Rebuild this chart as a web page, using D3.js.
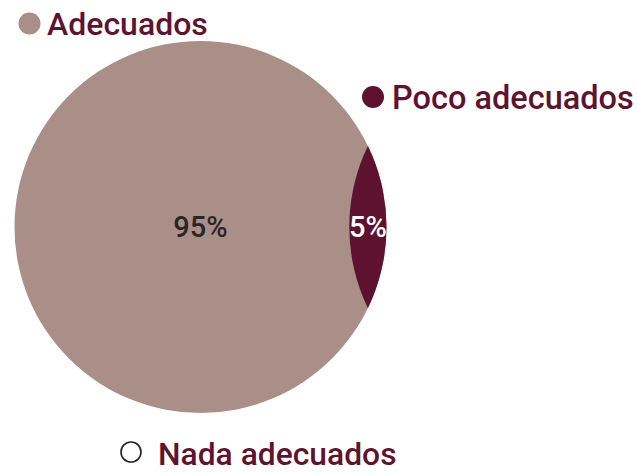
<!DOCTYPE html>
<html>
<head>
<meta charset="utf-8">
<script src="https://cdn.jsdelivr.net/npm/d3@7"></script>
<style>
  html, body { margin: 0; padding: 0; background: #fff; }
  svg { display: block; font-family: Roboto, "Noto Sans", sans-serif; }
</style>
</head>
<body>
<svg id="chart" width="637" height="473"></svg>
<script>
// Share of responses per rating
const categories = ["Adecuados", "Poco adecuados", "Nada adecuados"];
const values = [95, 5, 0];
const valueLabels = ["95%", "5%", "0%"];
const colors = ["#A98F87", "#5E1230", "#FFFFFF"];

const svg = d3.select("#chart");

// Main circle geometry
const cx = 200.5, cy = 227, R = 186;

// Depth of the overlap along the centre line grows with the minority share
const overlap = d3.scaleLinear().domain([0, 100]).range([0, 4 * R]);
const depth = overlap(values[1]);
const cx2 = cx + 2 * R - depth;

const defs = svg.append("defs");
defs.append("clipPath").attr("id", "mainClip")
  .append("circle").attr("cx", cx).attr("cy", cy).attr("r", R);

// Majority circle
svg.append("circle")
  .attr("cx", cx).attr("cy", cy).attr("r", R)
  .attr("fill", colors[0]);

// Minority lens: second circle clipped to the main one
svg.append("g").attr("clip-path", "url(#mainClip)")
  .append("circle")
  .attr("cx", cx2).attr("cy", cy).attr("r", R)
  .attr("fill", colors[1]);

// Value labels
svg.append("text")
  .attr("x", cx).attr("y", cy + 10)
  .attr("text-anchor", "middle")
  .attr("font-size", 29).attr("font-weight", 500)
  .attr("fill", "#2B2527")
  .text(valueLabels[0]);

const lensCenter = (cx + R + (cx2 - R)) / 2;
svg.append("text")
  .attr("x", lensCenter).attr("y", cy + 10)
  .attr("text-anchor", "middle")
  .attr("font-size", 29).attr("font-weight", 500)
  .attr("fill", "#FFFFFF")
  .text(valueLabels[1]);

// Legend entries placed around the circle
const legendPos = [
  { mx: 29.5, my: 23.5, r: 11, tx: 47, ty: 35, fs: 32 },
  { mx: 373, my: 97, r: 11, tx: 392, ty: 109, fs: 32.5 },
  { mx: 131, my: 452, r: 10, tx: 158, ty: 465, fs: 31.8 }
];

const legend = svg.append("g").selectAll("g")
  .data(categories)
  .join("g");

legend.append("circle")
  .attr("cx", (d, i) => legendPos[i].mx)
  .attr("cy", (d, i) => legendPos[i].my)
  .attr("r", (d, i) => legendPos[i].r)
  .attr("fill", (d, i) => colors[i])
  .attr("stroke", (d, i) => i === 2 ? "#222" : "none")
  .attr("stroke-width", 1.6);

legend.append("text")
  .attr("x", (d, i) => legendPos[i].tx)
  .attr("y", (d, i) => legendPos[i].ty)
  .attr("font-size", (d, i) => legendPos[i].fs)
  .attr("font-weight", 500)
  .attr("fill", "#5E1331")
  .text(d => d);
</script>
</body>
</html>
